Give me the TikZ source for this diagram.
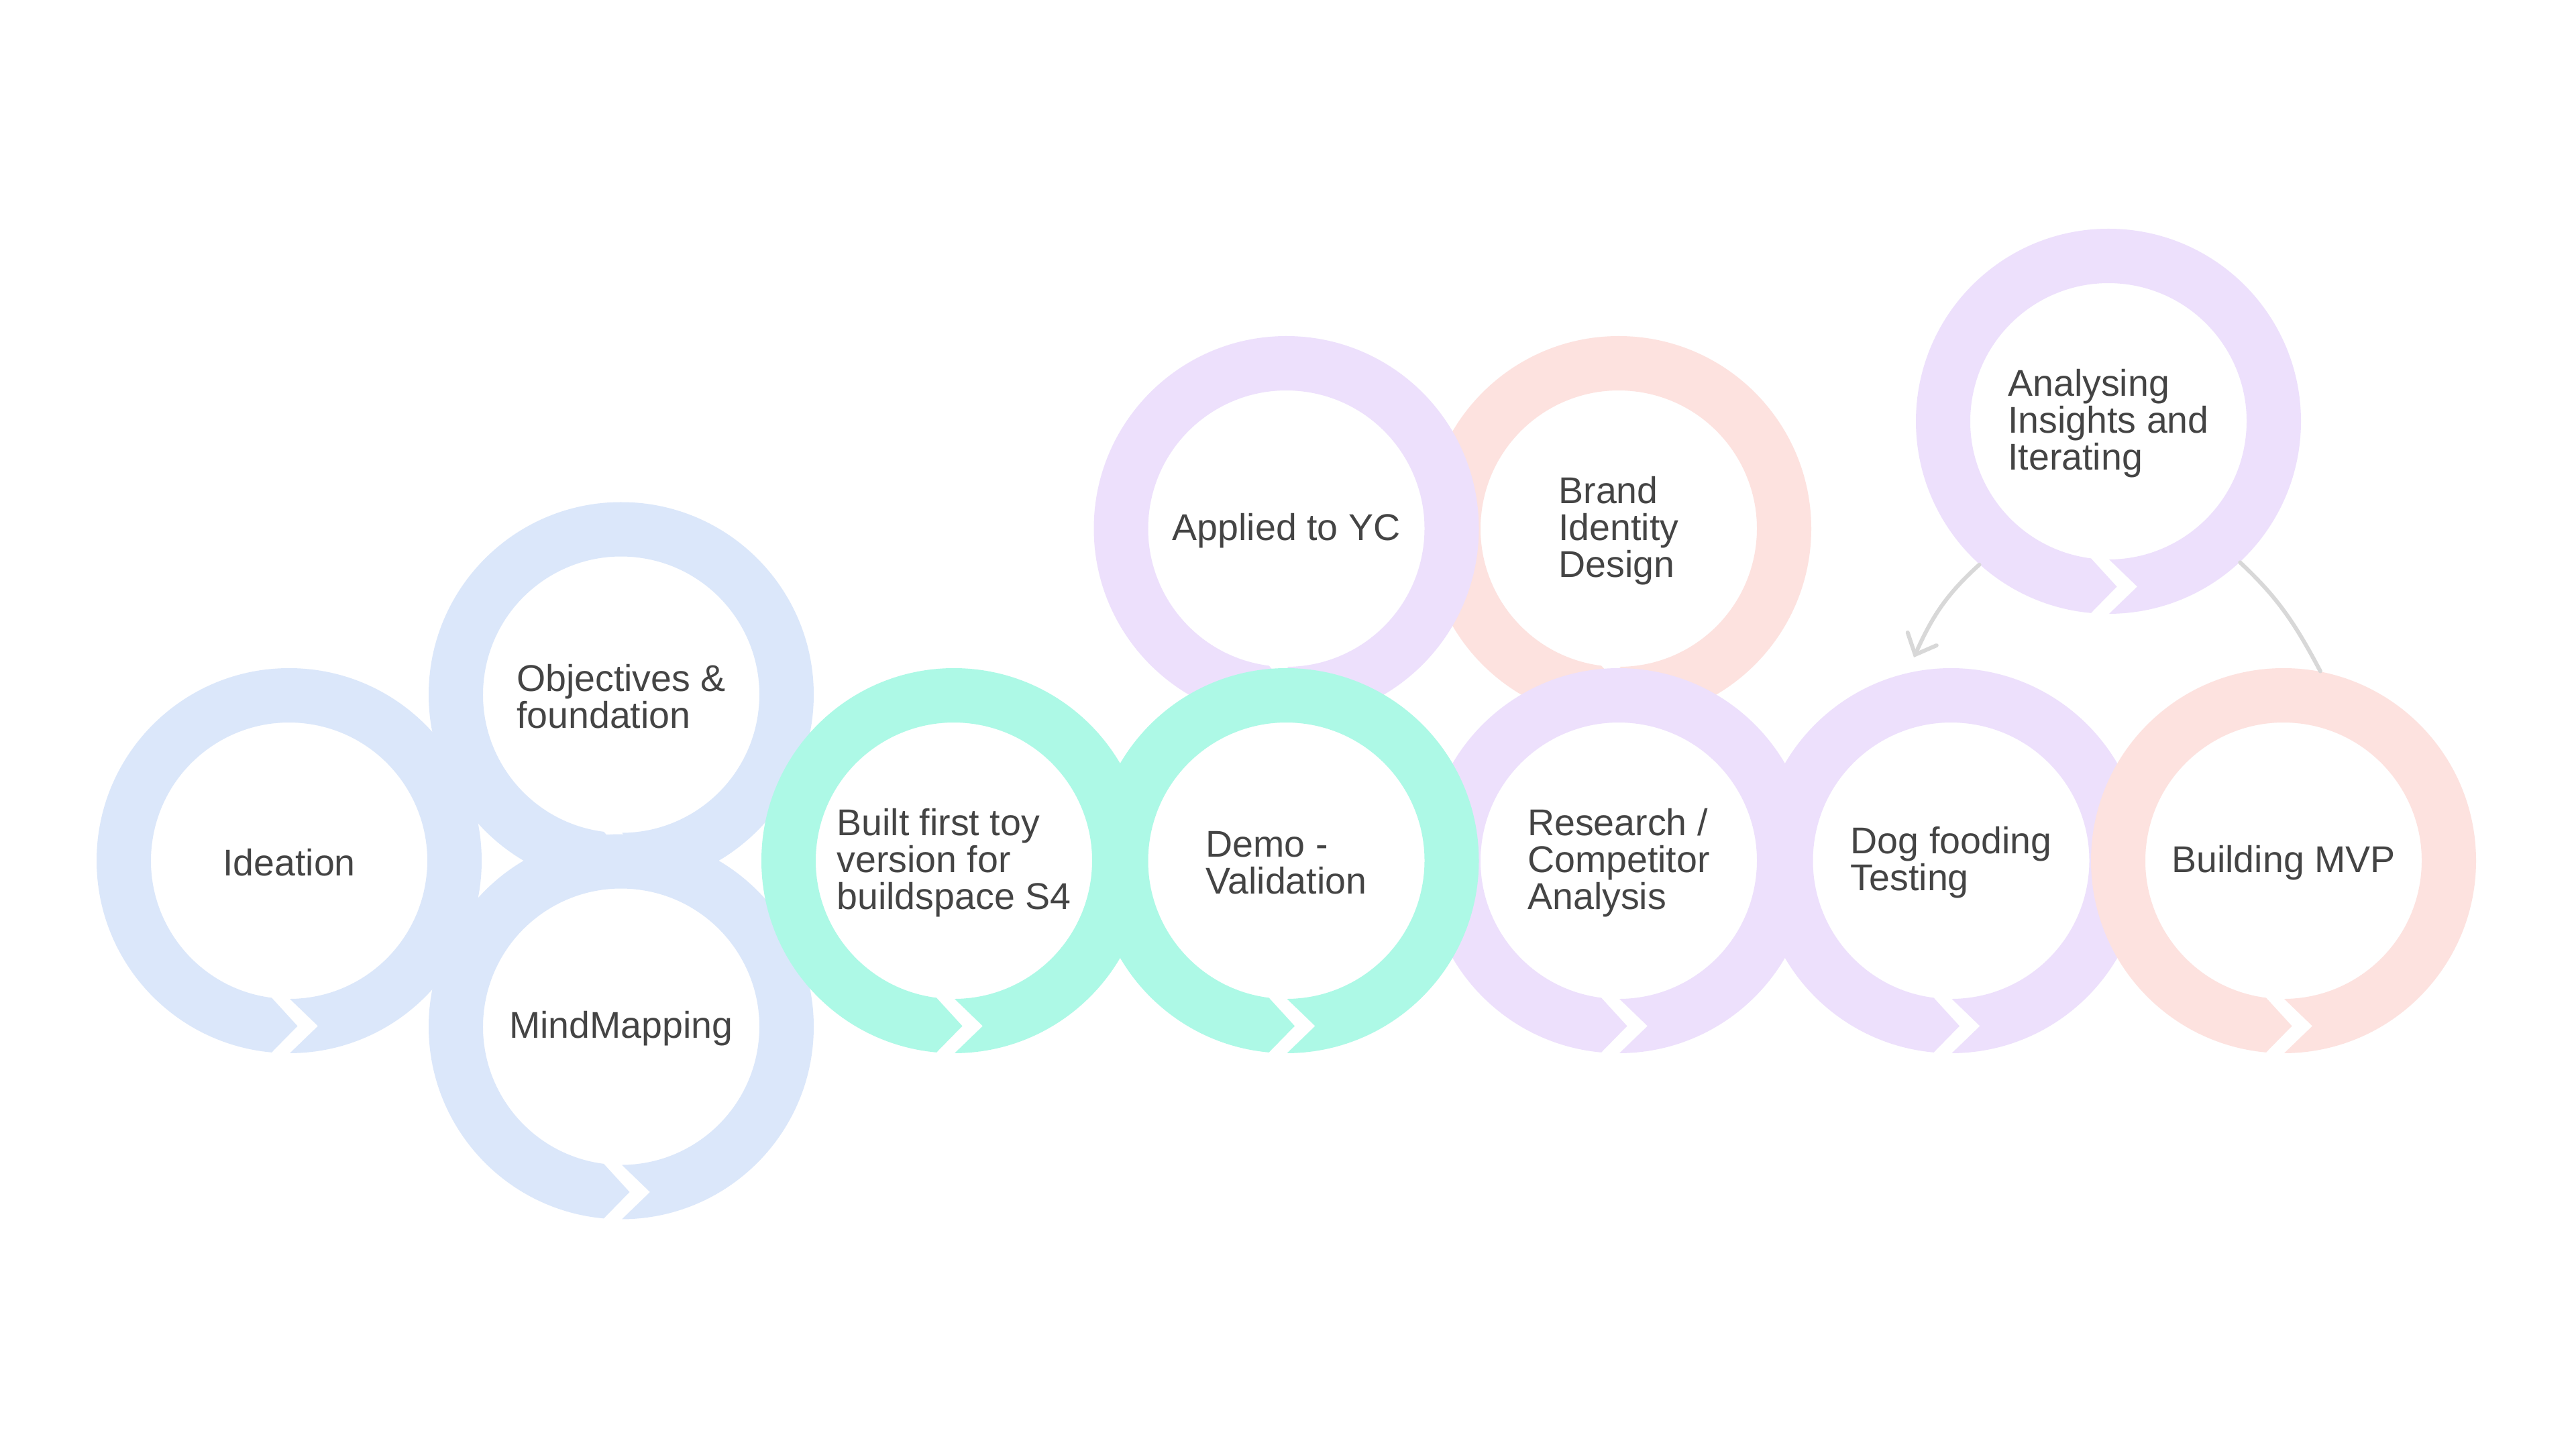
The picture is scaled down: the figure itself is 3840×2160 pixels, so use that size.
\documentclass[tikz,border=0pt]{standalone}
\usepackage{fontspec}
\setmainfont{Liberation Sans}
\usetikzlibrary{arrows.meta}
\definecolor{ringblue}{HTML}{DBE7FA}
\definecolor{ringteal}{HTML}{ADF9E6}
\definecolor{ringlav}{HTML}{EDE0FC}
\definecolor{ringpeach}{HTML}{FDE2DF}
\definecolor{labelgray}{HTML}{444444}
\definecolor{linkgray}{HTML}{D8D8D8}
% ring band with a chevron break at the bottom; #1 x, #2 screen y, #3 colour
\newcommand\chevring[3]{%
  \begin{scope}[shift={({#1},{2160-#2})}]
    \fill[#3] (1,-287) arc[start angle=-89.8,end angle=264.8,radius=287]
      -- (12.5,-246.5) -- (-26,-204.4)
      arc[start angle=262.75,end angle=-89.72,radius=206]
      -- (43,-246.5) -- cycle;
  \end{scope}}
\tikzset{
  steplabel/.style={circle,minimum size=5.74cm,inner sep=0pt,align=left,
    text=labelgray,font=\fontsize{15.8pt}{15.6pt}\selectfont},
  linkline/.style={draw=linkgray,line width=1.7pt,line cap=round},
  linkarrow/.style={linkline,-{Straight Barb[length=7.3pt,width=13.4pt,line cap=round]}}
}
\begin{document}
\begin{tikzpicture}[x=0.1mm,y=0.1mm]
\fill[white] (0,0) rectangle (3840,2160);
\useasboundingbox (0,0) rectangle (3840,2160);
% rings, back to front
\chevring{431}{1283}{ringblue}
\chevring{926}{1035.5}{ringblue}
\chevring{926}{1530.5}{ringblue}
\chevring{2413}{788}{ringpeach}
\chevring{1917.5}{788}{ringlav}
\chevring{2413}{1283}{ringlav}
\chevring{2908.5}{1283}{ringlav}
\chevring{3404}{1283}{ringpeach}
\chevring{1422}{1283}{ringteal}
\chevring{1917.5}{1283}{ringteal}
\chevring{3143}{628}{ringlav}
% labels (text block nudged to sit on the ring centre like the reference)
\begin{scope}[every node/.append style={yshift=-0.3mm}]
\node[steplabel] (ide) at (431,{2160-1283}) {Ideation};
\node[steplabel] (obj) at (926,{2160-1035.5}) {Objectives \&\\foundation};
\node[steplabel] (mind) at (926,{2160-1530.5}) {MindMapping};
\node[steplabel] (toy) at (1422,{2160-1283}) {Built first toy\\version for\\buildspace S4};
\node[steplabel] (demo) at (1917.5,{2160-1283}) {Demo -\\Validation};
\node[steplabel] (yc) at (1917.5,{2160-788}) {Applied to YC};
\node[steplabel] (brand) at (2413,{2160-788}) {Brand\\Identity\\Design};
\node[steplabel] (res) at (2413,{2160-1283}) {Research /\\Competitor\\Analysis};
\node[steplabel] (dog) at (2908.5,{2160-1283}) {Dog fooding\\Testing};
\node[steplabel] (mvp) at (3404,{2160-1283}) {Building MVP};
\node[steplabel] (ana) at (3143,{2160-628}) {Analysing\\Insights and\\Iterating};
\end{scope}
% connectors
\coordinate (dogtip) at (2853,{2160-980});
\draw[linkarrow] ([yshift=0.3mm]ana.228) to[out=222,in=66] (dogtip);
\draw[linkline] ([yshift=0.3mm]ana.313) to[out=-43,in=118] ([yshift=0.3mm]mvp.79);
\end{tikzpicture}
\end{document}
